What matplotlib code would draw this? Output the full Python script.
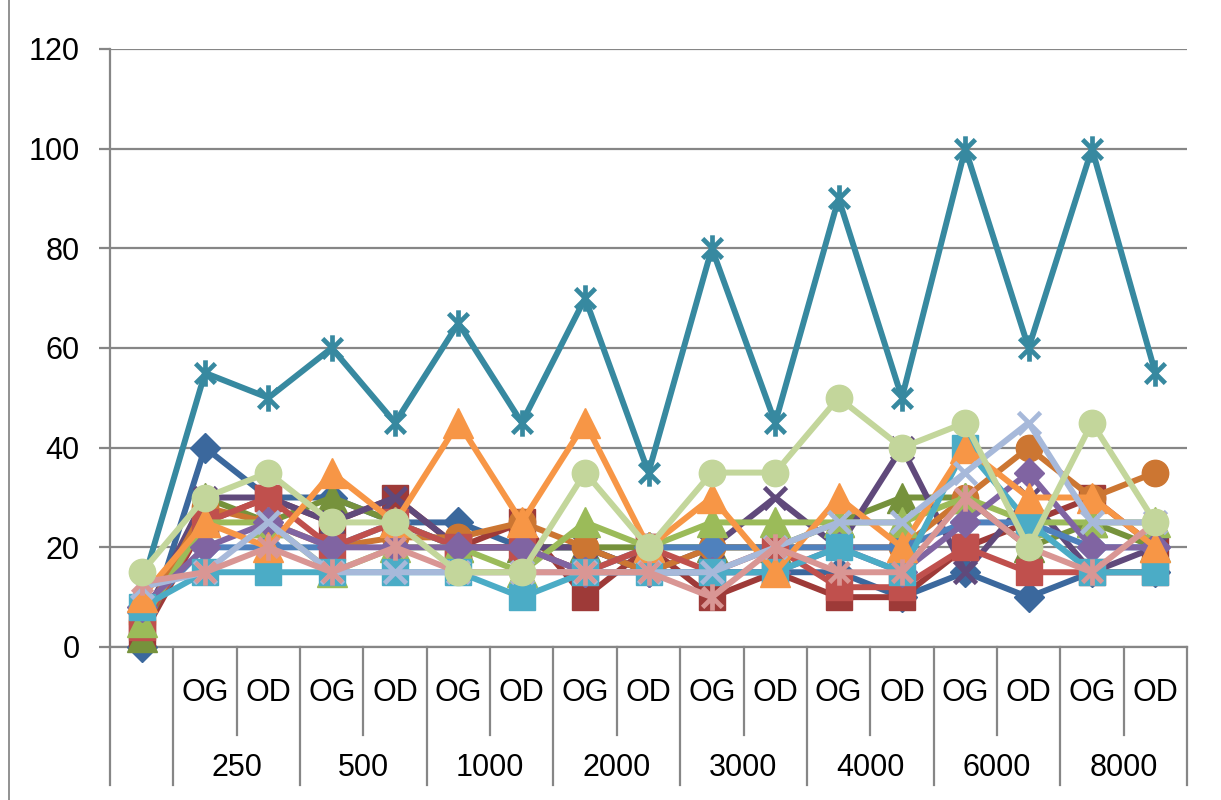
import matplotlib
matplotlib.use("Agg")
import matplotlib.pyplot as plt
from matplotlib.path import Path
import matplotlib.transforms as mtransforms

plt.rcParams['font.family'] = ['Liberation Sans', 'DejaVu Sans']

# audiogram thresholds (dB) per frequency, ear OG / OD
freqs = ['250', '500', '1000', '2000', '3000', '4000', '6000', '8000']
ears = ['OG', 'OD']

s01 = [0, 40, 30, 30, 25, 25, 20, 20, 15, 15, 15, 15, 10, 15, 10, 15, 15]
s02 = [2, 25, 30, 25, 30, 20, 25, 10, 20, 10, 15, 10, 10, 20, 25, 30, 20]
s03 = [2, 30, 25, 30, 25, 20, 20, 20, 20, 20, 20, 25, 30, 30, 20, 25, 20]
s04 = [5, 30, 30, 25, 30, 20, 20, 20, 15, 20, 30, 20, 40, 15, 30, 15, 20]
s05 = [12, 55, 50, 60, 45, 65, 45, 70, 35, 80, 45, 90, 50, 100, 60, 100, 55]
s06 = [5, 28, 25, 20, 22, 22, 25, 20, 15, 20, 20, 20, 20, 30, 40, 30, 35]
s07 = [7, 20, 20, 20, 25, 20, 20, 15, 20, 20, 20, 20, 20, 25, 25, 20, 20]
s08 = [4, 25, 30, 20, 25, 20, 20, 15, 20, 15, 20, 12, 12, 20, 15, 15, 15]
s09 = [5, 25, 25, 15, 20, 20, 15, 25, 20, 25, 25, 25, 25, 30, 25, 25, 25]
s10 = [8, 20, 25, 20, 20, 20, 20, 15, 15, 15, 15, 20, 15, 25, 35, 20, 20]
s11 = [8, 15, 15, 15, 15, 15, 10, 15, 15, 15, 15, 20, 15, 40, 25, 15, 15]
s12 = [10, 25, 20, 35, 25, 45, 25, 45, 20, 30, 15, 30, 20, 40, 30, 30, 20]
s13 = [12, 15, 25, 15, 15, 15, 15, 15, 15, 15, 20, 25, 25, 35, 45, 25, 25]
s14 = [13, 15, 20, 15, 20, 15, 15, 15, 15, 10, 20, 15, 15, 30, 20, 15, 25]
s15 = [15, 30, 35, 25, 25, 15, 15, 35, 20, 35, 35, 50, 40, 45, 20, 45, 25]

# star marker: an x with a vertical bar
star = Path([(0, -1), (0, 1), (-0.75, -0.75), (0.75, 0.75), (-0.75, 0.75), (0.75, -0.75)],
            [Path.MOVETO, Path.LINETO] * 3)

styles = [
    (s01, '#3B689D', 'D'), (s02, '#9E3A38', 's'), (s03, '#76923C', '^'),
    (s04, '#60497B', 'x'), (s05, '#3789A0', star), (s06, '#CC7632', 'o'),
    (s07, '#4F81BD', 'D'), (s08, '#C0504D', 's'), (s09, '#9BBB59', '^'),
    (s10, '#8064A2', 'D'), (s11, '#4BACC6', 's'), (s12, '#F79646', '^'),
    (s13, '#A7B9DA', 'x'), (s14, '#D99694', star), (s15, '#C3D69B', 'o'),
]
sizes = {'D': 15, 's': 19, '^': 21, 'o': 19, 'x': 16}

fig = plt.figure(figsize=(12.21, 8), dpi=100)
ax = fig.add_axes([110 / 1221, 153 / 800, 1077 / 1221, 598 / 800])

x = list(range(17))
for vals, col, mk in styles:
    if mk is star or mk == 'x':
        ax.plot(x, vals, color=col, lw=4.3, marker=mk, ms=19 if mk is star else 16,
                mec=col, mew=3.4, clip_on=False, zorder=3)
    else:
        ax.plot(x, vals, color=col, lw=4.3, marker=mk, ms=sizes[mk],
                mfc=col, mec=col, clip_on=False, zorder=3)

grid = '#868686'
ax.set_xlim(-0.5, 16.5)
ax.set_ylim(0, 120)
ax.set_yticks(range(0, 121, 20))
ax.yaxis.grid(True, color=grid, lw=1.6)
ax.set_axisbelow(True)
ax.tick_params(axis='y', length=8, width=1.6, color=grid, pad=14, labelsize=22)
ax.set_xticks([])
for side in ['top', 'right']:
    ax.spines[side].set_visible(False)
for side in ['left', 'bottom']:
    ax.spines[side].set_color(grid)
    ax.spines[side].set_linewidth(1.6)

# two-level category axis
trans = mtransforms.blended_transform_factory(ax.transData, ax.transAxes)
for b in [-0.5 + k for k in range(18)]:
    long_line = b < 1 or b > 16 or (b - 0.5) % 2 == 0
    y_end = -0.231 if long_line else -0.147
    ax.plot([b, b], [0, y_end], color=grid, lw=1.6, transform=trans, clip_on=False)
for i in range(16):
    ax.text(i + 1, -0.077, ears[i % 2], transform=trans, ha='center', va='center', fontsize=22)
for g, f in enumerate(freqs):
    ax.text(2 * g + 1.5, -0.202, f, transform=trans, ha='center', va='center', fontsize=22)

# chart area border
fig.add_artist(plt.Line2D([9 / 1221, 9 / 1221], [0, 1], color='#7F7F7F', lw=1.2))

fig.savefig('out.png', dpi=100)
